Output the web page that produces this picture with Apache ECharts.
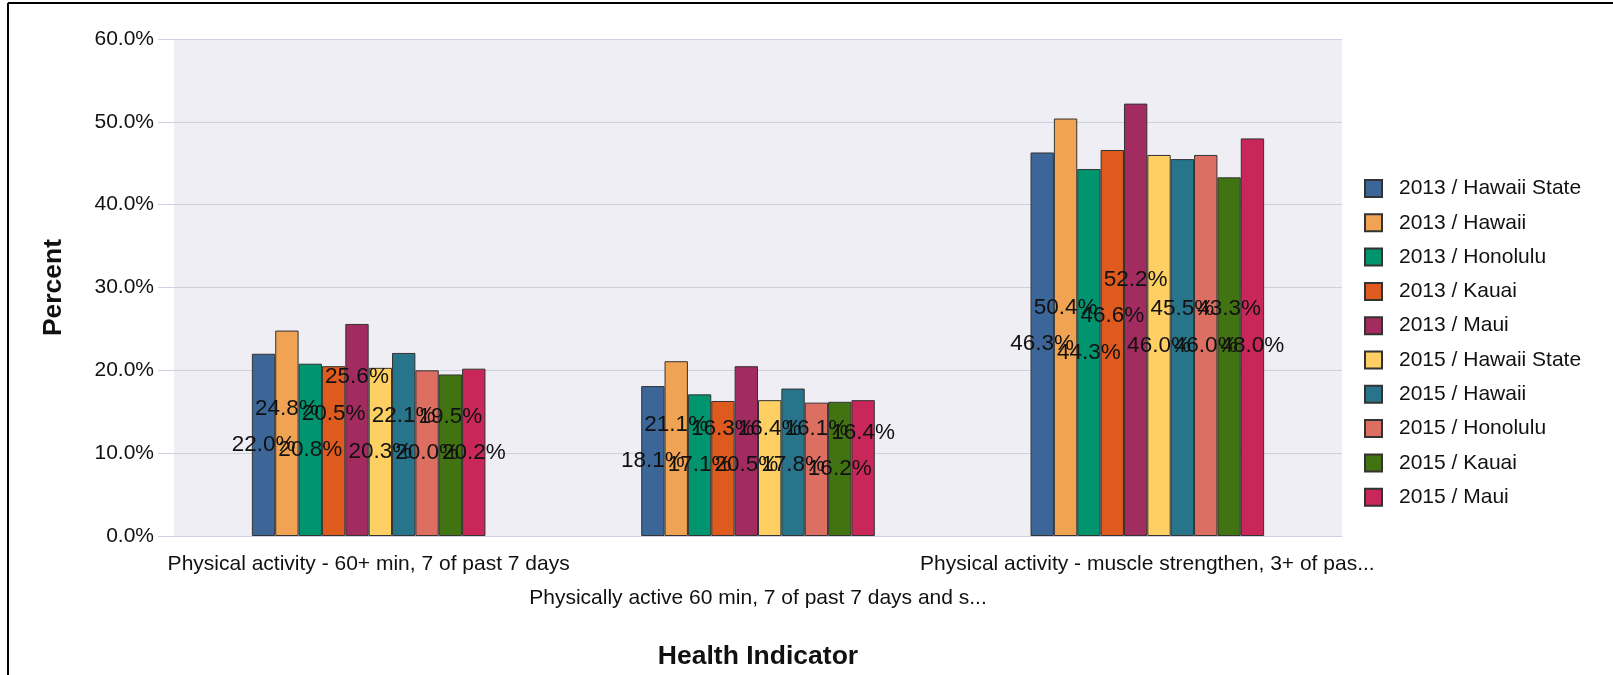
<!DOCTYPE html>
<html>
<head>
<meta charset="utf-8">
<script src="https://cdn.jsdelivr.net/npm/echarts@6/dist/echarts.min.js"></script>
<style>
html,body{margin:0;padding:0;background:#fff;}
#chart{width:1613px;height:675px;}
</style>
</head>
<body>
<div id="chart"></div>
<script>
const categories = [
  'Physical activity - 60+ min, 7 of past 7 days',
  'Physically active 60 min, 7 of past 7 days and s...',
  'Physical activity - muscle strengthen, 3+ of pas...'
];
const seriesNames = [
  '2013 / Hawaii State', '2013 / Hawaii', '2013 / Honolulu', '2013 / Kauai', '2013 / Maui',
  '2015 / Hawaii State', '2015 / Hawaii', '2015 / Honolulu', '2015 / Kauai', '2015 / Maui'
];
const hi2013State = [22.0, 18.1, 46.3];
const hawaii2013 = [24.8, 21.1, 50.4];
const honolulu2013 = [20.8, 17.1, 44.3];
const kauai2013 = [20.5, 16.3, 46.6];
const maui2013 = [25.6, 20.5, 52.2];
const hi2015State = [20.3, 16.4, 46.0];
const hawaii2015 = [22.1, 17.8, 45.5];
const honolulu2015 = [20.0, 16.1, 46.0];
const kauai2015 = [19.5, 16.2, 43.3];
const maui2015 = [20.2, 16.4, 48.0];
const yTicks = [0, 10, 20, 30, 40, 50, 60];

const seriesValues = [hi2013State, hawaii2013, honolulu2013, kauai2013, maui2013,
  hi2015State, hawaii2015, honolulu2015, kauai2015, maui2015];
const colors = ['#3b6697', '#f0a352', '#00946f', '#de5a1f', '#a22c5f',
  '#fecf62', '#28748a', '#dc6f62', '#427313', '#c92759'];

const FONT = '"Liberation Sans", Arial, sans-serif';
const GRID = '#d0cfdf';

const chart = echarts.init(document.getElementById('chart'), null, {renderer: 'canvas'});

function buildSeries(offsets) {
  return seriesNames.map(function (name, i) {
    return {
      name: name, type: 'bar',
      data: seriesValues[i].map(function (v, c) {
        return {value: v, label: {offset: [0, offsets ? offsets[i][c] : 0]}};
      }),
      barGap: '0%', barCategoryGap: '40%',
      itemStyle: {color: colors[i], borderColor: '#333', borderWidth: 1},
      label: {
        show: true, position: 'inside', fontSize: 22.5, color: '#111', fontFamily: FONT,
        formatter: function (p) { return p.value.toFixed(1) + '%'; }
      }
    };
  });
}

chart.setOption({
  animation: false,
  color: colors,
  textStyle: {fontFamily: FONT},
  grid: {left: 174, right: 271, top: 39, bottom: 138, show: true, backgroundColor: '#efeef4', borderWidth: 0},
  legend: {
    orient: 'vertical', left: 1359, top: 173, itemWidth: 17, itemHeight: 17, itemGap: 13.3,
    icon: 'rect',
    textStyle: {fontSize: 21, color: '#111', fontFamily: FONT, padding: [0, 0, 0, 12]},
    data: seriesNames
  },
  xAxis: {
    type: 'category', data: categories,
    name: 'Health Indicator', nameLocation: 'middle', nameGap: 107,
    nameTextStyle: {fontSize: 26.5, fontWeight: 'bold', color: '#111', fontFamily: FONT},
    axisLine: {show: true, lineStyle: {color: GRID, width: 1}},
    axisTick: {show: false},
    axisLabel: {
      interval: 0, fontSize: 21, color: '#111', margin: 11, lineHeight: 34,
      formatter: function (v, i) { return i % 2 === 1 ? '\n' + v : v; }
    }
  },
  yAxis: {
    type: 'value', min: yTicks[0], max: yTicks[yTicks.length - 1], interval: 10,
    name: 'Percent', nameLocation: 'middle', nameGap: 107, nameRotate: 90,
    nameTextStyle: {fontSize: 26.5, fontWeight: 'bold', color: '#111', fontFamily: FONT},
    axisLine: {show: false},
    axisTick: {show: true, length: 16, lineStyle: {color: GRID}},
    splitLine: {show: true, lineStyle: {color: GRID, width: 1}},
    axisLabel: {fontSize: 21, color: '#111', margin: 20, formatter: function (v) { return v.toFixed(1) + '%'; }}
  },
  graphic: [
    {type: 'line', shape: {x1: 8, y1: 3, x2: 1613, y2: 3}, style: {stroke: '#000', lineWidth: 2}},
    {type: 'line', shape: {x1: 8, y1: 3, x2: 8, y2: 675}, style: {stroke: '#000', lineWidth: 2}}
  ],
  series: buildSeries(null)
});

// Label collision rule: each label starts at its bar's middle; if it collides with the
// previous label in the same category, it is stacked just above (or below) that label.
const LABEL_STEP = 36.5;
const offsets = seriesValues.map(function () { return []; });
for (let c = 0; c < categories.length; c++) {
  let prev = null;
  for (let s = 0; s < seriesValues.length; s++) {
    const mid = chart.convertToPixel({yAxisIndex: 0}, seriesValues[s][c] / 2);
    let y = mid;
    if (prev !== null && Math.abs(mid - prev) < LABEL_STEP) {
      y = (mid - prev > 20.5) ? prev + LABEL_STEP : prev - LABEL_STEP;
    }
    offsets[s][c] = y - mid;
    prev = y;
  }
}
chart.setOption({series: buildSeries(offsets)});
</script>
</body>
</html>
